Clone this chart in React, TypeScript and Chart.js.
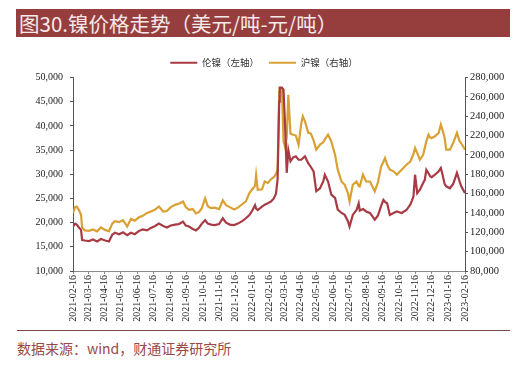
import React, { useEffect, useRef } from "react";
import { Chart, registerables } from "chart.js";

Chart.register(...registerables);

const title = "图30.镍价格走势（美元/吨-元/吨）";
const source = "数据来源：wind，财通证券研究所";
const seriesNames = ["伦镍（左轴）", "沪镍（右轴）"];

const xTickLabels = [
  "2021-02-16", "2021-03-16", "2021-04-16", "2021-05-16", "2021-06-16", "2021-07-16",
  "2021-08-16", "2021-09-16", "2021-10-16", "2021-11-16", "2021-12-16", "2022-01-16",
  "2022-02-16", "2022-03-16", "2022-04-16", "2022-05-16", "2022-06-16", "2022-07-16",
  "2022-08-16", "2022-09-16", "2022-10-16", "2022-11-16", "2022-12-16", "2023-01-16",
  "2023-02-16",
];

const dates = [
  "2021-02-16", "2021-02-20", "2021-02-23", "2021-02-27", "2021-03-03", "2021-03-05",
  "2021-03-10", "2021-03-18", "2021-03-25", "2021-04-02", "2021-04-09", "2021-04-17",
  "2021-04-24", "2021-04-30", "2021-05-05", "2021-05-13", "2021-05-20", "2021-05-28",
  "2021-06-04", "2021-06-11", "2021-06-19", "2021-06-26", "2021-07-04", "2021-07-11",
  "2021-07-19", "2021-07-26", "2021-08-03", "2021-08-10", "2021-08-17", "2021-08-25",
  "2021-09-01", "2021-09-09", "2021-09-14", "2021-09-20", "2021-09-27", "2021-10-03",
  "2021-10-09", "2021-10-14", "2021-10-20", "2021-10-25", "2021-10-31", "2021-11-07",
  "2021-11-15", "2021-11-22", "2021-11-28", "2021-12-05", "2021-12-13", "2021-12-20",
  "2021-12-28", "2022-01-04", "2022-01-10", "2022-01-15", "2022-01-21", "2022-01-23",
  "2022-01-26", "2022-02-03", "2022-02-08", "2022-02-14", "2022-02-20", "2022-02-25",
  "2022-03-01", "2022-03-04", "2022-03-07", "2022-03-08", "2022-03-12", "2022-03-15",
  "2022-03-18", "2022-03-21", "2022-03-24", "2022-03-28", "2022-04-02", "2022-04-07",
  "2022-04-12", "2022-04-17", "2022-04-20", "2022-04-24", "2022-04-30", "2022-05-05",
  "2022-05-10", "2022-05-15", "2022-05-22", "2022-05-28", "2022-05-31", "2022-06-06",
  "2022-06-12", "2022-06-19", "2022-06-24", "2022-07-01", "2022-07-07", "2022-07-13",
  "2022-07-16", "2022-07-22", "2022-07-29", "2022-08-02", "2022-08-04", "2022-08-10",
  "2022-08-16", "2022-08-23", "2022-09-01", "2022-09-07", "2022-09-13", "2022-09-17",
  "2022-09-20", "2022-09-24", "2022-09-29", "2022-10-06", "2022-10-12", "2022-10-21",
  "2022-10-30", "2022-11-06", "2022-11-09", "2022-11-12", "2022-11-15", "2022-11-19",
  "2022-11-24", "2022-11-30", "2022-12-03", "2022-12-06", "2022-12-10", "2022-12-13",
  "2022-12-16", "2022-12-22", "2022-12-29", "2023-01-02", "2023-01-05", "2023-01-09",
  "2023-01-12", "2023-01-19", "2023-01-25", "2023-02-01", "2023-02-06", "2023-02-09",
  "2023-02-16",
];

const lmeNickel = [
  19200, 19800, 19600, 19000, 18500, 16400, 16300, 16200, 16500, 16100, 16600, 16300,
  16100, 17500, 17900, 17600, 18000, 17400, 17900, 17600, 18300, 18600, 18400, 18900,
  19300, 19800, 19300, 19000, 19400, 19600, 19700, 20200, 19400, 19200, 18700, 18400,
  19000, 19800, 20500, 19800, 19600, 19500, 19700, 20900, 20000, 19600, 19500, 19800,
  20300, 20900, 21500, 22300, 23600, 22900, 22600, 23300, 23700, 24000, 24400, 25000,
  26000, 29000, 45000, 47900, 47900, 47500, 40000, 30300, 35000, 32700, 33500, 33700,
  33000, 33000, 33300, 33700, 32300, 31500, 30600, 26500, 27100, 28500, 29900, 28500,
  25800, 25100, 22700, 22000, 21600, 20300, 19200, 21600, 22600, 24000, 22500, 22800,
  22300, 22000, 20600, 21500, 23500, 24700, 24300, 24000, 21600, 22000, 22300, 22000,
  22600, 23700, 24500, 25400, 29900, 26100, 26800, 28200, 28800, 30900, 30200, 29600,
  29400, 29900, 30600, 31300, 30000, 28000, 27500, 27100, 28000, 30300, 28500, 27500,
  26100,
];

const shfeNickel = [
  140000, 146000, 146500, 143000, 138000, 125000, 122000, 121500, 123000, 121000, 125000, 122500,
  121000, 129000, 131500, 130500, 132500, 126000, 134000, 132000, 135500, 137000, 140000, 141500,
  143500, 146700, 141500, 142000, 146000, 148400, 149500, 151800, 146000, 143200, 144000, 139500,
  141000, 145000, 155000, 147000, 145000, 145500, 144000, 153000, 148000, 146000, 143500, 145500,
  149000, 152000, 160000, 164000, 168000, 179000, 164000, 164500, 172500, 171000, 175000, 177000,
  180000, 185000, 265000, 269000, 269000, 214000, 208000, 218000, 262000, 222000, 220900, 220000,
  210600, 232000, 239900, 234700, 223000, 222000, 215000, 205400, 210600, 213000, 216000, 220900,
  214000, 200200, 184700, 172500, 169100, 160500, 151800, 169100, 172500, 168000, 167400, 179500,
  172500, 172500, 162200, 172000, 188200, 193000, 196800, 190000, 184700, 183000, 179500, 184700,
  189800, 193000, 196800, 201000, 207100, 202000, 195000, 200000, 207000, 214000, 220900, 218000,
  217500, 219200, 222700, 231300, 226000, 218000, 205400, 205400, 212300, 222700, 214000, 212000,
  205400,
];

const DAY = 86400000;
const base = Date.parse(xTickLabels[0]);
const toDay = (s: string) => Math.round((Date.parse(s) - base) / DAY);
const tickDays = xTickLabels.map(toDay);

const RED = "#A83A44";
const GOLD = "#D9A134";
const AXIS = "#555555";
const SERIF = "'Liberation Serif', 'Times New Roman', serif";
const CJK = "'Noto Sans CJK SC', sans-serif";

export default function App() {
  const ref = useRef<HTMLCanvasElement | null>(null);

  useEffect(() => {
    document.body.style.margin = "0";
    const canvas = ref.current;
    if (!canvas) return;
    const chart = new Chart(canvas, {
      type: "line",
      data: {
        datasets: [
          {
            label: seriesNames[0],
            data: dates.map((d, i) => ({ x: toDay(d), y: lmeNickel[i] })),
            borderColor: RED,
            backgroundColor: RED,
            borderWidth: 2.2,
            pointRadius: 0,
            tension: 0,
            yAxisID: "y",
          },
          {
            label: seriesNames[1],
            data: dates.map((d, i) => ({ x: toDay(d), y: shfeNickel[i] })),
            borderColor: GOLD,
            backgroundColor: GOLD,
            borderWidth: 2.2,
            pointRadius: 0,
            tension: 0,
            yAxisID: "y1",
          },
        ],
      },
      options: {
        animation: false,
        responsive: false,
        maintainAspectRatio: false,
        layout: { padding: { top: 8, left: 0, right: 0, bottom: 0 } },
        plugins: {
          tooltip: { enabled: false },
          legend: {
            position: "top",
            labels: {
              boxWidth: 27,
              boxHeight: 2,
              padding: 10,
              color: "#333333",
              font: { family: CJK, size: 9.5 },
              generateLabels: (c: any) =>
                Chart.defaults.plugins.legend.labels
                  .generateLabels(c)
                  .map((l: any) => ({ ...l, lineWidth: 0 })),
            },
          },
        },
        scales: {
          x: {
            type: "linear",
            min: 0,
            max: tickDays[tickDays.length - 1],
            afterBuildTicks: (scale: any) => {
              scale.ticks = tickDays.map((v) => ({ value: v }));
            },
            afterFit: (scale: any) => {
              scale.height = 59;
            },
            grid: {
              display: true,
              drawOnChartArea: false,
              drawTicks: true,
              tickLength: 3,
              color: "#888888",
            },
            border: { display: true, color: "#8a8a8a", width: 1 },
            ticks: {
              autoSkip: false,
              maxRotation: 90,
              minRotation: 90,
              padding: 1,
              color: "#222222",
              font: { family: SERIF, size: 10 },
              callback: (v: any) => {
                const i = tickDays.indexOf(Number(v));
                return i >= 0 ? xTickLabels[i] : "";
              },
            },
          },
          y: {
            position: "left",
            min: 10000,
            max: 50000,
            afterFit: (scale: any) => {
              scale.width = 73;
            },
            grid: {
              display: true,
              drawOnChartArea: false,
              drawTicks: true,
              tickLength: 3,
              color: AXIS,
            },
            border: { display: true, color: AXIS, width: 1 },
            ticks: {
              stepSize: 5000,
              padding: 7,
              color: "#222222",
              font: { family: SERIF, size: 10 },
              callback: (v: any) => Number(v).toLocaleString("en-US"),
            },
          },
          y1: {
            position: "right",
            min: 80000,
            max: 280000,
            afterFit: (scale: any) => {
              scale.width = 63;
            },
            grid: {
              display: true,
              drawOnChartArea: false,
              drawTicks: true,
              tickLength: 3,
              color: AXIS,
            },
            border: { display: true, color: AXIS, width: 1 },
            ticks: {
              stepSize: 20000,
              padding: 2,
              color: "#222222",
              font: { family: SERIF, size: 10.5 },
              callback: (v: any) => Number(v).toLocaleString("en-US"),
            },
          },
        },
      },
    });
    return () => chart.destroy();
  }, []);

  return (
    <div
      style={{
        position: "fixed",
        left: 0,
        top: 0,
        width: 528,
        height: 365,
        background: "#ffffff",
        overflow: "hidden",
      }}
    >
      <div
        style={{
          position: "absolute",
          left: 16,
          top: 9,
          width: 494,
          height: 28,
          background: "#963E3E",
          color: "#F6E9E9",
          fontFamily: CJK,
          fontSize: 20.5,
          lineHeight: "28px",
          paddingLeft: 3,
          boxSizing: "border-box",
          whiteSpace: "nowrap",
        }}
      >
        {title}
      </div>
      <canvas
        ref={ref}
        width={528}
        height={290}
        style={{ position: "absolute", left: 0, top: 40, width: 528, height: 290 }}
      />
      <div
        style={{
          position: "absolute",
          left: 17,
          top: 330,
          width: 493,
          height: 0,
          borderTop: "1px solid #7A4A4A",
        }}
      />
      <div
        style={{
          position: "absolute",
          left: 17,
          top: 339,
          color: "#9A4848",
          fontFamily: CJK,
          fontSize: 14,
          lineHeight: "18px",
          whiteSpace: "nowrap",
        }}
      >
        {source}
      </div>
    </div>
  );
}
